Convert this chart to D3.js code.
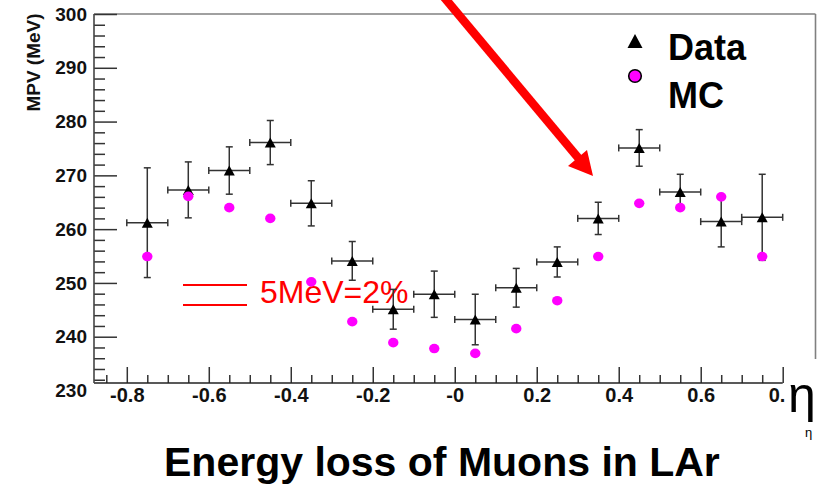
<!DOCTYPE html>
<html>
<head>
<meta charset="utf-8">
<script src="https://cdn.jsdelivr.net/npm/d3@7"></script>
<style>
  html, body { margin: 0; padding: 0; background: #fff; }
  svg { display: block; }
  text { font-family: "Liberation Sans", Arial, Helvetica, sans-serif; }
</style>
</head>
<body>
<svg id="chart" width="823" height="485"></svg>
<script>
// ---- data ----
const etaBins = [-0.75, -0.65, -0.55, -0.45, -0.35, -0.25, -0.15, -0.05,
                  0.05,  0.15,  0.25,  0.35,  0.45,  0.55,  0.65,  0.75];
const dataMPV = [261.2, 267.3, 270.9, 276.1, 264.8, 254.1, 245.1, 247.9,
                 243.2, 249.1, 253.9, 262.0, 275.1, 266.9, 261.4, 262.2];
const dataErr = [10.2, 5.2, 4.4, 4.1, 4.2, 3.6, 3.7, 4.3,
                  4.7, 3.6, 2.8, 3.0, 3.4, 3.3, 4.7, 8.0];
const mcMPV   = [254.9, 266.1, 264.0, 262.0, 250.2, 242.8, 238.9, 237.8,
                 236.9, 241.5, 246.7, 254.9, 264.8, 264.0, 266.0, 254.9];
const binHalfWidth = 0.05;

const xTickValues = [-0.8, -0.6, -0.4, -0.2, 0, 0.2, 0.4, 0.6, 0.8];
const xTickLabels = ["-0.8", "-0.6", "-0.4", "-0.2", "-0", "0.2", "0.4", "0.6", "0."];
const yTickValues = [230, 240, 250, 260, 270, 280, 290, 300];
const yTickLabels = ["230", "240", "250", "260", "270", "280", "290", "300"];
const legendLabels = ["Data", "MC"];
const titleText = "Energy loss of Muons in LAr";
const yTitle = "MPV (MeV)";
const xTitle = "\u03b7";
const noteText = "5MeV=2%";

// ---- layout ----
const svg = d3.select("#chart");
const frameLeft = 94, frameRight = 815.5, frameTop = 14, axisY = 383;
const x = d3.scaleLinear().domain([-0.88, 0.88]).range([frameLeft, frameRight]);
const y = d3.scaleLinear().domain([230, 300]).range([390.5, frameTop]);
const axisColor = "#333";
const frameColor = "#808080";

// frame (top + right, as visible)
svg.append("line").attr("x1", frameLeft).attr("x2", frameRight)
  .attr("y1", frameTop).attr("y2", frameTop)
  .attr("stroke", frameColor).attr("stroke-width", 1.6);
svg.append("line").attr("x1", frameRight).attr("x2", frameRight)
  .attr("y1", frameTop).attr("y2", 359)
  .attr("stroke", frameColor).attr("stroke-width", 1.6);

// ---- X axis ----
const xMajor = svg.append("g").attr("transform", `translate(0,${axisY})`)
  .call(d3.axisBottom(x).tickValues(xTickValues)
    .tickFormat((d, i) => xTickLabels[i]).tickSizeInner(-16).tickSizeOuter(0).tickPadding(5));
xMajor.select(".domain").remove();
xMajor.selectAll(".tick line").attr("stroke", axisColor).attr("stroke-width", 1.5);
xMajor.selectAll(".tick text").attr("fill", "#111")
  .style("font-size", "20px").style("font-weight", "bold");
// last label is partly hidden behind the eta symbol in the original: "0."
xMajor.selectAll(".tick text").filter((d, i) => i === xTickValues.length - 1)
  .attr("text-anchor", "start").attr("x", -14.5);

const xMinorVals = d3.range(-0.85, 0.81, 0.05).map(v => Math.round(v * 100) / 100)
  .filter(v => Math.abs(Math.round(v * 10) - v * 10) > 1e-6 || Math.round(v * 10) % 2 !== 0);
const xMinor = svg.append("g").attr("transform", `translate(0,${axisY})`)
  .call(d3.axisBottom(x).tickValues(xMinorVals).tickFormat("").tickSizeInner(-8).tickSizeOuter(0));
xMinor.select(".domain").remove();
xMinor.selectAll(".tick line").attr("stroke", axisColor).attr("stroke-width", 1.5);

svg.append("line").attr("x1", frameLeft).attr("x2", x(0.8))
  .attr("y1", axisY).attr("y2", axisY).attr("stroke", "#222").attr("stroke-width", 1.6);

// ---- Y axis ----
const yLabels = svg.append("g").attr("transform", `translate(${frameLeft},0)`)
  .call(d3.axisLeft(y).tickValues(yTickValues)
    .tickFormat((d, i) => yTickLabels[i]).tickSize(0).tickPadding(7));
yLabels.select(".domain").remove();
yLabels.selectAll(".tick text").attr("fill", "#111")
  .style("font-size", "19px").style("font-weight", "bold");

const yMajor = svg.append("g").attr("transform", `translate(${frameLeft},0)`)
  .call(d3.axisLeft(y).tickValues(yTickValues.filter(v => y(v) < axisY))
    .tickFormat("").tickSizeInner(-23).tickSizeOuter(0));
yMajor.select(".domain").remove();
yMajor.selectAll(".tick line").attr("stroke", axisColor).attr("stroke-width", 1.5);

const yMinorVals = d3.range(232, 300, 2).filter(v => v % 10 !== 0 && y(v) < axisY - 1);
const yMinor = svg.append("g").attr("transform", `translate(${frameLeft},0)`)
  .call(d3.axisLeft(y).tickValues(yMinorVals).tickFormat("").tickSizeInner(-11).tickSizeOuter(0));
yMinor.select(".domain").remove();
yMinor.selectAll(".tick line").attr("stroke", axisColor).attr("stroke-width", 1.5);

svg.append("line").attr("x1", frameLeft).attr("x2", frameLeft)
  .attr("y1", frameTop).attr("y2", axisY).attr("stroke", "#444").attr("stroke-width", 1.6);

svg.append("text").attr("transform", "translate(39.5,62.5) rotate(-90)")
  .attr("text-anchor", "middle").attr("fill", "#111")
  .style("font-size", "19px").style("font-weight", "bold").text(yTitle);

// ---- annotation: 5MeV=2% ----
svg.append("line").attr("x1", 183).attr("x2", 247).attr("y1", 285).attr("y2", 285)
  .attr("stroke", "#ff0000").attr("stroke-width", 2);
svg.append("line").attr("x1", 183).attr("x2", 247).attr("y1", 305).attr("y2", 305)
  .attr("stroke", "#ff0000").attr("stroke-width", 2);
svg.append("text").attr("x", 260).attr("y", 303).attr("fill", "#ff0000")
  .style("font-size", "32px").text(noteText);

// ---- Data points with error bars ----
const pts = etaBins.map((e, i) => ({ eta: e, v: dataMPV[i], err: dataErr[i], mc: mcMPV[i] }));
const eg = svg.append("g").attr("stroke", "#333").attr("stroke-width", 1.5).attr("fill", "none");
const cap = 3.5;
pts.forEach(p => {
  const cx = x(p.eta), cy = y(p.v);
  const x0 = x(p.eta - binHalfWidth), x1 = x(p.eta + binHalfWidth);
  const y0 = y(p.v - p.err), y1 = y(p.v + p.err);
  eg.append("line").attr("x1", x0).attr("x2", x1).attr("y1", cy).attr("y2", cy);
  eg.append("line").attr("x1", x0).attr("x2", x0).attr("y1", cy - cap).attr("y2", cy + cap);
  eg.append("line").attr("x1", x1).attr("x2", x1).attr("y1", cy - cap).attr("y2", cy + cap);
  eg.append("line").attr("x1", cx).attr("x2", cx).attr("y1", y0).attr("y2", y1);
  eg.append("line").attr("x1", cx - cap).attr("x2", cx + cap).attr("y1", y0).attr("y2", y0);
  eg.append("line").attr("x1", cx - cap).attr("x2", cx + cap).attr("y1", y1).attr("y2", y1);
});
const tri = (cx, cy, w, h) => `M${cx},${cy - h / 2}L${cx + w / 2},${cy + h / 2}L${cx - w / 2},${cy + h / 2}Z`;
svg.append("g").selectAll("path").data(pts).join("path")
  .attr("d", p => tri(x(p.eta), y(p.v), 11, 10)).attr("fill", "#000");

// ---- MC points ----
svg.append("g").selectAll("ellipse").data(pts).join("ellipse")
  .attr("cx", p => x(p.eta)).attr("cy", p => y(p.mc))
  .attr("rx", 5.2).attr("ry", 4.8).attr("fill", "#ff00ff");

// ---- Legend ----
svg.append("path").attr("d", tri(635, 41, 15, 14)).attr("fill", "#000");
svg.append("circle").attr("cx", 635).attr("cy", 76).attr("r", 6.3)
  .attr("fill", "#ff00ff").attr("stroke", "#000").attr("stroke-width", 1.6);
svg.append("text").attr("x", 668).attr("y", 60).attr("fill", "#000")
  .style("font-size", "36px").style("font-weight", "bold").text(legendLabels[0]);
svg.append("text").attr("x", 668).attr("y", 108).attr("fill", "#000")
  .style("font-size", "36px").style("font-weight", "bold").text(legendLabels[1]);

// ---- Red arrow ----
svg.append("line").attr("x1", 438).attr("y1", -10).attr("x2", 580).attr("y2", 160)
  .attr("stroke", "#ff0000").attr("stroke-width", 8.5);
svg.append("path").attr("d", "M593,176L568,166L587,150Z").attr("fill", "#ff0000");

// ---- eta axis symbol ----
svg.append("text").attr("x", 788).attr("y", 412).attr("fill", "#000")
  .style("font-size", "50px").text(xTitle);
svg.append("text").attr("x", 805).attr("y", 437).attr("fill", "#000")
  .style("font-size", "13px").text(xTitle);

// ---- Title ----
svg.append("text").attr("x", 164).attr("y", 476).attr("fill", "#000")
  .style("font-size", "41px").style("font-weight", "bold").text(titleText);
</script>
</body>
</html>
